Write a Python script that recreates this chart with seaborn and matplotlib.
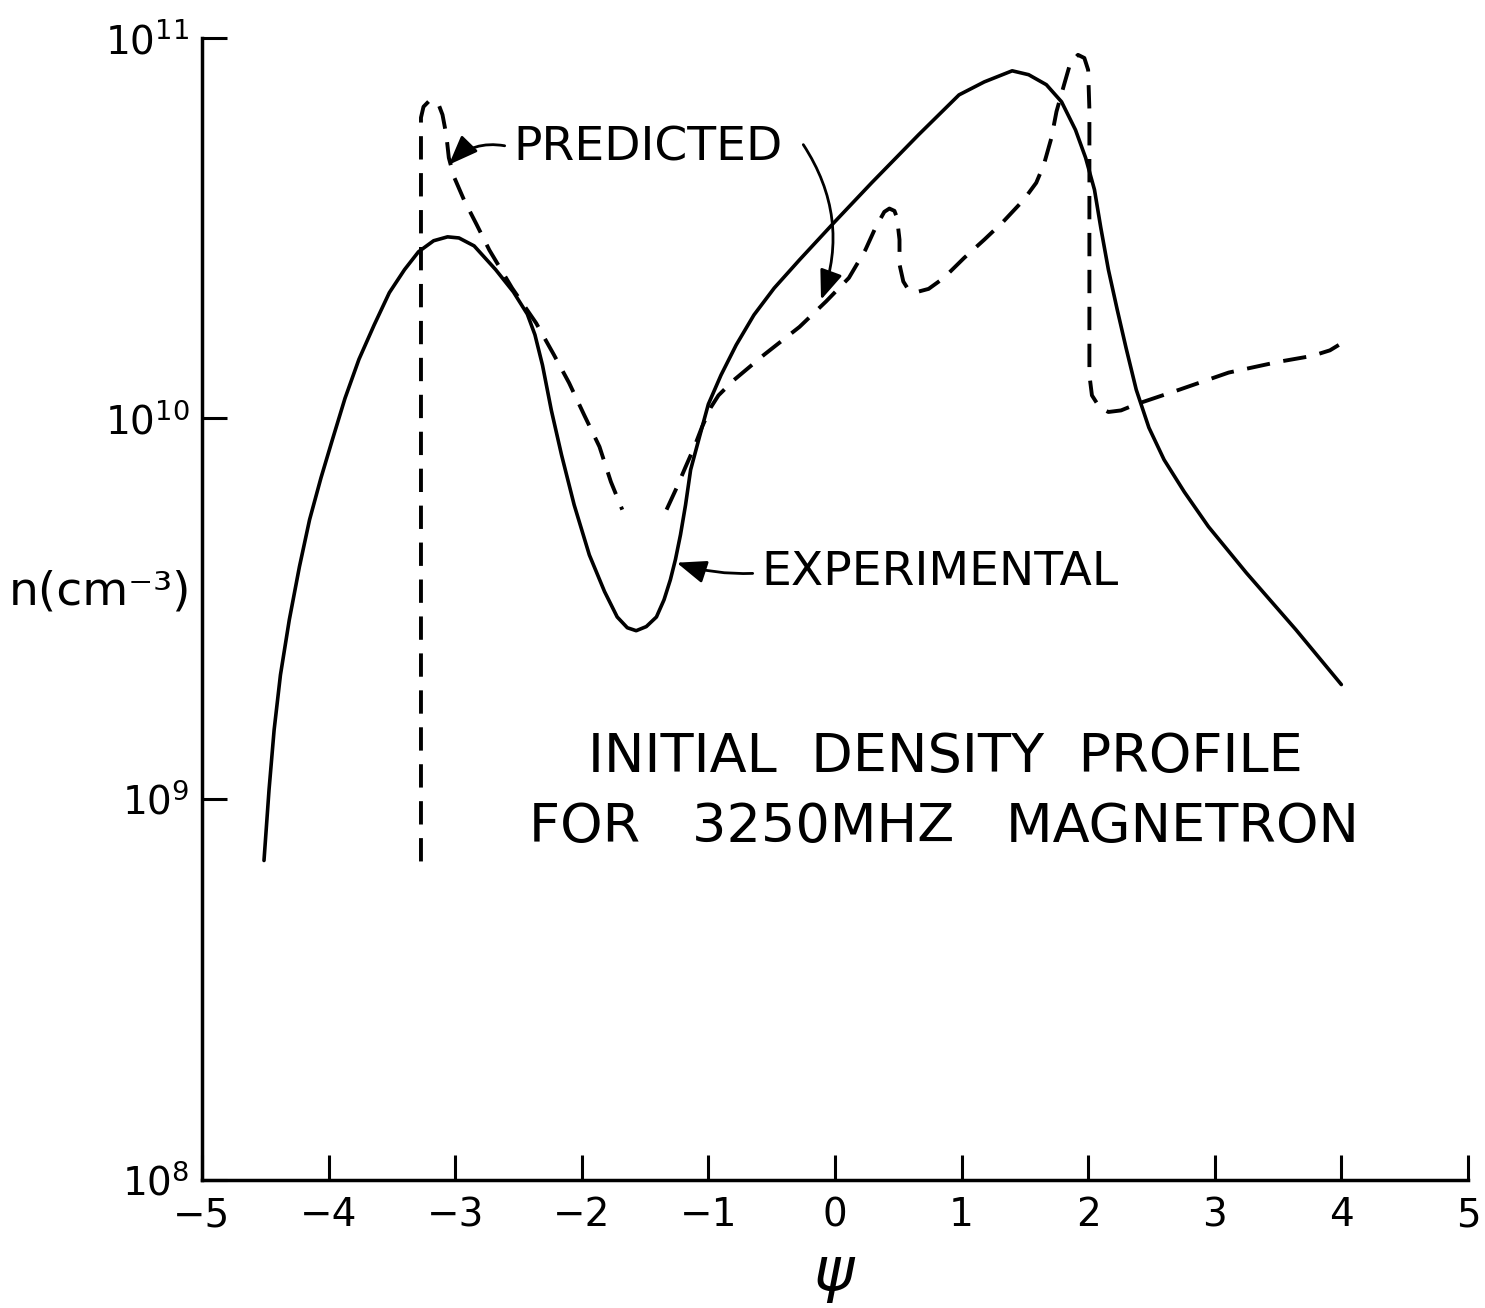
"""Initial density profile for a 3250 MHz magnetron (log-scale line chart)."""

import matplotlib

matplotlib.use("Agg")
import matplotlib.pyplot as plt
import pandas as pd
import seaborn as sns

# experimental profile (solid)
exp_psi = [-4.51, -4.47, -4.43, -4.38, -4.31, -4.23, -4.15, -4.06, -3.97, -3.87,
           -3.76, -3.64, -3.52, -3.40, -3.29, -3.17, -3.06, -2.97, -2.85, -2.68,
           -2.54, -2.43, -2.37, -2.31, -2.24, -2.16, -2.06, -1.94, -1.82, -1.72,
           -1.64, -1.57, -1.49, -1.41, -1.35, -1.30, -1.26, -1.22, -1.18, -1.14,
           -1.07, -1.00, -0.90, -0.78, -0.64, -0.48, -0.28, 0.0, 0.29, 0.66,
           0.98, 1.18, 1.40, 1.53, 1.67, 1.79, 1.90, 1.98, 2.05, 2.10,
           2.16, 2.23, 2.30, 2.38, 2.48, 2.60, 2.76, 2.95, 3.25, 3.64, 4.00]
exp_n = [6.9e8, 1.06e9, 1.52e9, 2.12e9, 2.96e9, 4.08e9, 5.42e9, 6.98e9, 8.79e9, 1.13e10,
         1.43e10, 1.76e10, 2.14e10, 2.46e10, 2.74e10, 2.93e10, 3.0e10, 2.98e10, 2.84e10, 2.46e10,
         2.15e10, 1.88e10, 1.66e10, 1.38e10, 1.05e10, 8.03e9, 5.93e9, 4.38e9, 3.51e9, 3.01e9,
         2.82e9, 2.77e9, 2.84e9, 3.01e9, 3.34e9, 3.77e9, 4.26e9, 4.95e9, 5.93e9, 7.33e9,
         8.95e9, 1.09e10, 1.30e10, 1.56e10, 1.87e10, 2.20e10, 2.61e10, 3.29e10, 4.16e10, 5.56e10,
         7.08e10, 7.66e10, 8.19e10, 8.0e10, 7.53e10, 6.79e10, 5.73e10, 4.84e10, 3.99e10, 3.17e10,
         2.46e10, 1.93e10, 1.53e10, 1.19e10, 9.46e9, 7.79e9, 6.41e9, 5.20e9, 3.93e9, 2.79e9, 2.0e9]

# predicted profile (dashed), drawn in two pieces
pred_left_psi = [-3.27, -3.27, -3.25, -3.21, -3.16, -3.13, -3.10, -3.07, -3.05, -3.01,
                 -2.93, -2.83, -2.73, -2.55, -2.36, -2.22, -2.10, -1.98, -1.86, -1.77, -1.68]
pred_left_n = [6.86e8, 6.17e10, 6.59e10, 6.80e10, 6.84e10, 6.67e10, 6.28e10, 5.56e10, 4.84e10, 4.32e10,
               3.75e10, 3.23e10, 2.77e10, 2.20e10, 1.78e10, 1.47e10, 1.24e10, 1.02e10, 8.43e9, 6.82e9, 5.76e9]

pred_right_psi = [-1.33, -1.25, -1.18, -1.11, -1.05, -0.98, -0.92, -0.80, -0.56, -0.28,
                  -0.07, 0.11, 0.24, 0.32, 0.39, 0.43, 0.47, 0.49, 0.51, 0.51,
                  0.54, 0.58, 0.65, 0.74, 0.86, 1.02, 1.18, 1.33, 1.49, 1.59,
                  1.65, 1.71, 1.75, 1.81, 1.86, 1.92, 1.97, 2.00, 2.01, 2.01,
                  2.03, 2.09, 2.16, 2.26, 2.38, 2.72, 3.11, 3.51, 3.77, 3.91, 3.98]
pred_right_n = [5.76e9, 6.58e9, 7.46e9, 8.43e9, 9.5e9, 1.07e10, 1.15e10, 1.26e10, 1.47e10, 1.74e10,
                2.03e10, 2.34e10, 2.77e10, 3.17e10, 3.49e10, 3.56e10, 3.51e10, 3.37e10, 2.95e10, 2.54e10,
                2.29e10, 2.18e10, 2.15e10, 2.19e10, 2.34e10, 2.64e10, 2.95e10, 3.29e10, 3.75e10, 4.16e10,
                4.64e10, 5.46e10, 6.40e10, 7.53e10, 8.60e10, 9.02e10, 8.85e10, 8.24e10, 6.47e10, 1.30e10,
                1.15e10, 1.07e10, 1.04e10, 1.05e10, 1.09e10, 1.19e10, 1.32e10, 1.41e10, 1.46e10, 1.51e10, 1.56e10]

x_ticks = [-5, -4, -3, -2, -1, 0, 1, 2, 3, 4, 5]
x_tick_labels = ["−5", "−4", "−3", "−2", "−1", "0", "1", "2", "3", "4", "5"]
y_ticks = [1e8, 1e9, 1e10, 1e11]
y_tick_labels = [r"$10^{8}$", r"$10^{9}$", r"$10^{10}$", r"$10^{11}$"]

sns.set_style("ticks")
plt.rcParams["font.family"] = ["DejaVu Sans"]
plt.rcParams["mathtext.fontset"] = "dejavusans"
plt.rcParams["text.color"] = "black"
plt.rcParams["axes.labelcolor"] = "black"

fig = plt.figure(figsize=(14.85, 13.08), dpi=100, facecolor="white")
ax = fig.add_axes([0.136, 0.098, 0.8525, 0.8731])

dash = (0, (6, 3.5))
sns.lineplot(data=pd.DataFrame({"psi": exp_psi, "n": exp_n}), x="psi", y="n",
             sort=False, estimator=None, color="black", linewidth=2.6, ax=ax)
sns.lineplot(data=pd.DataFrame({"psi": pred_left_psi, "n": pred_left_n}), x="psi", y="n",
             sort=False, estimator=None, color="black", linewidth=2.8, linestyle=dash, ax=ax)
sns.lineplot(data=pd.DataFrame({"psi": pred_right_psi, "n": pred_right_n}), x="psi", y="n",
             sort=False, estimator=None, color="black", linewidth=2.8, linestyle=dash, ax=ax)

ax.set_yscale("log")
ax.set_xlim(-5, 5)
ax.set_ylim(1e8, 1e11)
ax.set_xticks(x_ticks)
ax.set_xticklabels(x_tick_labels)
ax.set_yticks(y_ticks)
ax.set_yticklabels(y_tick_labels)
ax.minorticks_off()
ax.tick_params(direction="in", length=18, width=2.2, labelsize=28, colors="black")
ax.tick_params(axis="x", pad=12)
ax.tick_params(axis="y", pad=9)
for side in ["left", "bottom"]:
    ax.spines[side].set_linewidth(2.5)
    ax.spines[side].set_color("black")
sns.despine(ax=ax)

ax.set_xlabel(r"$\psi$", fontsize=44, labelpad=8)
ax.set_ylabel("n(cm⁻³)", fontsize=34, rotation=0, ha="center", va="center")
ax.yaxis.set_label_coords(-0.0806, 0.515)

head = "-|>,head_length=0.9,head_width=0.35"
ax.annotate("PREDICTED", xy=(-3.05, 4.64e10), xytext=(-2.54, 5.14e10),
            fontsize=34, ha="left", va="center", color="black",
            arrowprops=dict(arrowstyle=head, color="black", lw=2.0, mutation_scale=20,
                            connectionstyle="arc3,rad=0.3", relpos=(0, 0.5), shrinkA=4, shrinkB=0))
ax.annotate("", xy=(-0.11, 2.05e10), xytext=(-0.25, 5.24e10),
            arrowprops=dict(arrowstyle=head, color="black", lw=2.0, mutation_scale=20,
                            connectionstyle="arc3,rad=-0.25", shrinkA=0, shrinkB=0))
ax.annotate("EXPERIMENTAL", xy=(-1.25, 4.18e9), xytext=(-0.58, 3.93e9),
            fontsize=34, ha="left", va="center", color="black",
            arrowprops=dict(arrowstyle=head, color="black", lw=2.0, mutation_scale=20,
                            connectionstyle="arc3,rad=-0.1", relpos=(0, 0.5), shrinkA=4, shrinkB=0))

ax.text(0.587, 0.370, "INITIAL  DENSITY  PROFILE", transform=ax.transAxes,
        fontsize=39, ha="center", va="center", color="black")
ax.text(0.586, 0.309, "FOR   3250MHZ   MAGNETRON", transform=ax.transAxes,
        fontsize=39, ha="center", va="center", color="black")

fig.savefig("out.png", dpi=100, facecolor="white")
plt.close(fig)
